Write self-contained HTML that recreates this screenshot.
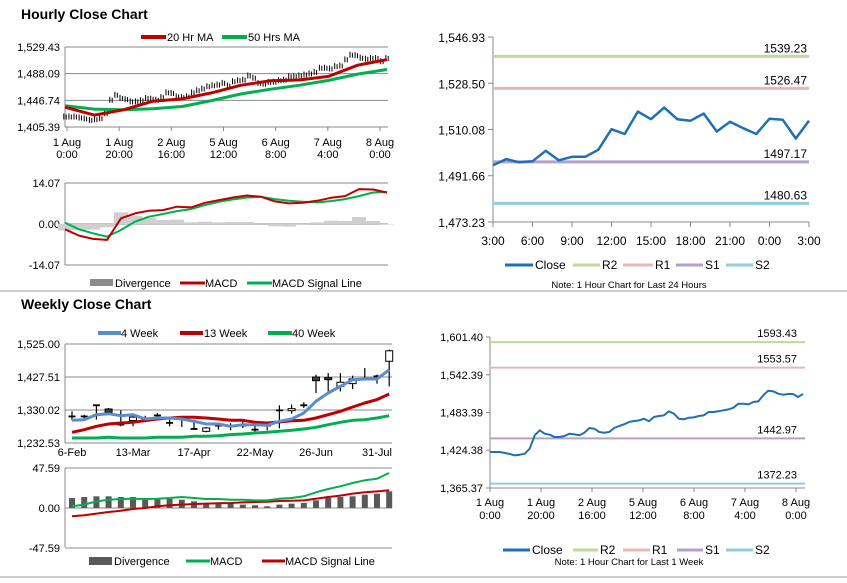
<!DOCTYPE html>
<html><head><meta charset="utf-8"><style>
html,body{margin:0;padding:0;background:#fff;}
svg{display:block;font-family:"Liberation Sans",Arial,sans-serif;}
text{fill:#000;}
</style></head><body>
<svg id="root" width="847" height="583" viewBox="0 0 847 583" xmlns="http://www.w3.org/2000/svg">
<rect x="0" y="0" width="847" height="583" fill="#fff"/>
<text x="21" y="19" font-size="14" font-weight="bold">Hourly Close Chart</text>
<text x="21" y="309" font-size="14" font-weight="bold">Weekly Close Chart</text>
<line x1="0" y1="291" x2="847" y2="291" stroke="#999" stroke-width="1"/>
<line x1="0" y1="577" x2="847" y2="577" stroke="#999" stroke-width="1"/>

<g font-size="11">
<line x1="141" y1="37" x2="166" y2="37" stroke="#c00000" stroke-width="4"/>
<text x="167" y="41">20 Hr MA</text>
<line x1="222" y1="37" x2="247" y2="37" stroke="#00b050" stroke-width="4"/>
<text x="248" y="41">50 Hrs MA</text>
</g>
<g font-size="11">
<rect x="90" y="279" width="23" height="7" fill="#8c8c8c"/>
<text x="115" y="287">Divergence</text>
<line x1="180" y1="283" x2="205" y2="283" stroke="#c00000" stroke-width="3"/>
<text x="205" y="287">MACD</text>
<line x1="247" y1="283" x2="272" y2="283" stroke="#00b050" stroke-width="3"/>
<text x="272" y="287">MACD Signal Line</text>
</g>
<g font-size="11">
<line x1="98" y1="333" x2="121" y2="333" stroke="#5b8ccc" stroke-width="4"/>
<text x="121" y="337">4 Week</text>
<line x1="180" y1="333" x2="203" y2="333" stroke="#c00000" stroke-width="4"/>
<text x="204" y="337">13 Week</text>
<line x1="268" y1="333" x2="292" y2="333" stroke="#00b050" stroke-width="4"/>
<text x="292" y="337">40 Week</text>
</g>
<g font-size="11">
<rect x="89" y="557" width="23" height="8" fill="#595959"/>
<text x="114" y="565">Divergence</text>
<line x1="186" y1="561" x2="210" y2="561" stroke="#00b050" stroke-width="3"/>
<text x="210" y="565">MACD</text>
<line x1="262" y1="561" x2="285" y2="561" stroke="#c00000" stroke-width="3"/>
<text x="285" y="565">MACD Signal Line</text>
</g>
<g font-size="12">
<line x1="505" y1="265" x2="533" y2="265" stroke="#1f6fb4" stroke-width="3"/>
<text x="535" y="269">Close</text>
<line x1="573" y1="265" x2="600" y2="265" stroke="#c3d69b" stroke-width="3"/>
<text x="602" y="269">R2</text>
<line x1="623" y1="265" x2="653" y2="265" stroke="#e6b9b8" stroke-width="3"/>
<text x="655" y="269">R1</text>
<line x1="676" y1="265" x2="703" y2="265" stroke="#b3a2c7" stroke-width="3"/>
<text x="705" y="269">S1</text>
<line x1="726" y1="265" x2="753" y2="265" stroke="#93cddd" stroke-width="3"/>
<text x="755" y="269">S2</text>
<text x="629" y="288" font-size="9.5" text-anchor="middle">Note: 1 Hour Chart for Last 24 Hours</text>
</g>
<g font-size="12">
<line x1="503" y1="550" x2="530" y2="550" stroke="#1f6fb4" stroke-width="3"/>
<text x="532" y="554">Close</text>
<line x1="573" y1="550" x2="598" y2="550" stroke="#c3d69b" stroke-width="3"/>
<text x="600" y="554">R2</text>
<line x1="623" y1="550" x2="650" y2="550" stroke="#e6b9b8" stroke-width="3"/>
<text x="652" y="554">R1</text>
<line x1="677" y1="550" x2="703" y2="550" stroke="#b3a2c7" stroke-width="3"/>
<text x="705" y="554">S1</text>
<line x1="726" y1="550" x2="753" y2="550" stroke="#93cddd" stroke-width="3"/>
<text x="755" y="554">S2</text>
<text x="629" y="565" font-size="9.5" text-anchor="middle">Note: 1 Hour Chart for Last 1 Week</text>
</g>
</svg>
<script>
// ---- data ----
const hourLabels1 = ["1 Aug","1 Aug","2 Aug","5 Aug","6 Aug","7 Aug","8 Aug"];
const hourLabels2 = ["0:00","20:00","16:00","12:00","8:00","4:00","0:00"];
const hourlyClose = [1421.6,1421.6,1421.6,1420.1,1418.5,1416.4,1417.4,1419.0,1426.8,1447.7,1455.5,1450.3,1448.7,1445.1,1445.1,1446.6,1450.3,1449.2,1447.7,1451.8,1459.1,1458.1,1452.9,1451.8,1452.9,1459.1,1462.3,1464.9,1468.5,1470.1,1471.1,1473.7,1469.6,1476.3,1477.9,1478.9,1485.2,1481.6,1473.7,1472.7,1475.3,1475.8,1477.9,1478.9,1484.2,1484.2,1485.2,1486.8,1488.3,1490.9,1497.2,1497.2,1496.1,1499.8,1500.8,1510.2,1517.5,1516.5,1512.8,1511.2,1512.3,1512.3,1507.6,1512.3];
const ma20 = [1436.1,1423.8,1432.0,1445.4,1449.0,1458.2,1470.0,1477.1,1478.2,1483.8,1501.2,1509.9];
const ma50 = [1438.2,1433.1,1432.0,1433.6,1437.2,1446.4,1456.6,1463.8,1470.0,1477.7,1487.4,1494.6];
const hMacd = [-1.82,-3.99,-5.13,-5.47,1.94,3.64,4.56,4.78,5.92,5.69,7.29,8.20,9.11,9.79,9.34,7.74,7.06,7.29,7.97,9.00,9.57,11.96,11.85,10.82];
const hSignal = [0.46,-1.82,-3.19,-4.33,-2.05,0.80,2.51,3.42,4.44,5.13,6.49,7.63,8.43,9.11,9.34,8.54,7.97,7.63,7.40,7.86,8.54,9.57,10.82,10.93];
const hDiv = [-2.28,-2.17,-1.94,-1.14,3.99,2.84,2.05,1.36,1.48,0.56,0.80,0.57,0.68,0.68,0.0,-0.80,-0.91,-0.34,0.57,1.14,1.03,2.39,1.03,-0.11];
const hTicks = [1405.39,1446.74,1488.09,1529.43];
const hMacdTicks = [-14.07,0,14.07];

const wLabels = ["6-Feb","13-Mar","17-Apr","22-May","26-Jun","31-Jul"];
const wOpen  = [1311,1311,1344,1333,1287,1299,1302,1314,1292,1306,1274,1267,1284,1282,1284,1272,1284,1329,1328,1344,1427.5,1425.5,1400,1408,1421.6,1429.5,1474];
const wClose = [1311,1311,1344,1323,1287,1309,1302,1314,1292,1306,1274,1277,1284,1282,1284,1272,1284,1329,1334,1344,1416.7,1419.6,1412,1422,1421.6,1429.5,1505];
const wHigh  = [1326,1316,1346,1336,1329,1313,1313,1321,1306,1308,1302,1280,1289,1291,1299,1289,1294,1344,1346,1353,1434.4,1439.3,1439,1431.5,1454,1434.4,1508.3];
const wLow   = [1300,1303,1302,1319,1282,1282,1294,1306,1282,1280,1272,1264,1272,1270,1277,1265,1270,1276,1319,1336,1380.2,1385.2,1385,1392,1419.6,1407.8,1399.9];
const w4 = [1299.5,1301.5,1316.2,1319.2,1313.3,1316.2,1303.4,1306.4,1306.4,1303.4,1296.5,1288.7,1288.7,1281.8,1286.7,1286.7,1284.7,1296.5,1303.4,1321.2,1355.6,1380.2,1399.9,1419.6,1421.6,1421.6,1449.2];
const w13 = [1264.0,1271.9,1281.8,1288.7,1291.6,1293.6,1298.5,1303.4,1306.4,1308.4,1308.4,1306.4,1303.4,1299.5,1299.5,1293.6,1291.6,1294.6,1298.5,1299.5,1306.4,1316.2,1326.1,1338.9,1350.7,1360.6,1377.3];
const w40 = [1247.3,1247.3,1247.3,1249.3,1247.3,1247.3,1247.3,1249.3,1249.3,1249.3,1252.2,1252.2,1254.2,1257.2,1259.1,1262.1,1264.0,1267.0,1270.0,1273.9,1278.8,1286.7,1293.6,1299.5,1301.5,1306.4,1313.3];
const wMacd = [2.0,4.0,7.9,9.9,10.7,11.1,10.7,11.1,11.9,13.1,11.9,10.7,10.7,9.9,9.9,9.1,9.1,11.1,11.9,13.9,18.7,22.6,25.8,29.8,32.9,34.9,41.7];
const wSignal = [-9.9,-8.7,-6.7,-4.8,-3.2,-1.2,0.0,2.0,3.2,4.0,4.8,5.2,5.6,6.0,6.7,7.1,7.5,8.3,8.7,9.1,11.1,13.1,14.7,17.1,18.7,19.8,21.0];
const wDiv = [11.9,13.1,13.9,13.9,13.1,13.1,11.9,11.1,10.7,9.9,7.9,6.0,6.0,6.0,4.0,3.2,2.0,4.0,5.2,6.0,9.1,11.9,13.1,13.9,15.9,17.1,19.8];
const wTicks = [1232.53,1330.02,1427.51,1525.00];
const wMacdTicks = [-47.59,0,47.59];

const dayLabels = ["3:00","6:00","9:00","12:00","15:00","18:00","21:00","0:00","3:00"];
const dayClose = [1495.8,1498.3,1497.0,1497.4,1501.6,1497.8,1499.2,1499.2,1502.0,1510.2,1508.3,1517.2,1514.2,1518.8,1514.2,1513.6,1516.4,1509.3,1513.2,1510.6,1508.3,1514.4,1514.0,1506.5,1513.6];
const dayTicks = [1473.23,1491.66,1510.08,1528.50,1546.93];
const dayPivotNames = ["R2","R1","S1","S2"];
const dayPivots = [1539.23,1526.47,1497.17,1480.63];
const weekTicks = [1365.37,1424.38,1483.39,1542.39,1601.40];
const weekPivots = [1593.43,1553.57,1442.97,1372.23];
const pivotColors = ["#c3d69b","#e6b9b8","#b3a2c7","#93cddd"];

// ---- helpers ----
const NS = "http://www.w3.org/2000/svg";
const root = document.getElementById("root");
function mk(tag, attrs, name, parent) {
  const el = document.createElementNS(NS, tag);
  for (const k in attrs) el.setAttribute(k, attrs[k]);
  
  
  (parent || root).appendChild(el);
  return el;
}
function txt(x, y, s, name, anchor, size) {
  const t = mk("text", {x: x, y: y, "font-size": size || 11, "text-anchor": anchor || "start"}, name);
  t.textContent = s;
  return t;
}
function fmt(v) { return v.toLocaleString("en-US", {minimumFractionDigits: 2, maximumFractionDigits: 2}); }
function linScale(d0, d1, r0, r1) { return v => r0 + (v - d0) / (d1 - d0) * (r1 - r0); }
function poly(arr, xs, ys, color, w, name) {
  const pts = arr.map((v, i) => xs(i).toFixed(1) + "," + ys(v).toFixed(1)).join(" ");
  mk("polyline", {points: pts, fill: "none", stroke: color, "stroke-width": w, "stroke-linejoin": "round"}, name);
}

// ---- Hourly price (top-left) ----
const hY = linScale(1405.39, 1529.43, 127, 47);
hTicks.forEach((t, i) => {
  mk("line", {x1: 65, x2: 388, y1: hY(t), y2: hY(t), stroke: "#888", "stroke-width": 1}, "hourly-gridline");
  txt(60, hY(t) + 4, fmt(t), "hourly-y-tick-label", "end");
});
mk("line", {x1: 65, x2: 65, y1: 47, y2: 127, stroke: "#888"}, "hourly-y-axis");
const hLabX = linScale(0, 6, 67, 380);
hourLabels1.forEach((l, i) => {
  mk("line", {x1: hLabX(i), x2: hLabX(i), y1: 127, y2: 131, stroke: "#888"}, "hourly-x-tick");
  txt(hLabX(i), 146, l, "hourly-x-tick-label", "middle");
  txt(hLabX(i), 158, hourLabels2[i], "hourly-x-tick-label", "middle");
});
const hX = linScale(0, hourlyClose.length - 1, 65, 387);
let hPath = "";
hourlyClose.forEach((v, i) => {
  const x = hX(i), y = hY(v);
  hPath += "M" + (x - 1.2).toFixed(1) + "," + (y - 3).toFixed(1) + "v6M" + (x + 1.2).toFixed(1) + "," + (y - 2).toFixed(1) + "v5";
});
mk("path", {d: hPath, stroke: "#000", "stroke-width": 1, fill: "none"}, "hourly-candles");
const maX = linScale(0, ma20.length - 1, 65, 387);
poly(ma50, maX, hY, "#00b050", 3, "hourly-50hr-ma-line");
poly(ma20, maX, hY, "#c00000", 3, "hourly-20hr-ma-line");

// ---- Hourly MACD ----
const hmY = linScale(0, 14.07, 224, 183);
hMacdTicks.forEach(t => {
  mk("line", {x1: 65, x2: 388, y1: hmY(t), y2: hmY(t), stroke: "#888"}, "hourly-macd-gridline");
  txt(60, hmY(t) + 4, fmt(t), "hourly-macd-y-tick-label", "end");
});
mk("line", {x1: 65, x2: 65, y1: 183, y2: 265, stroke: "#888"}, "hourly-macd-y-axis");
const hmX = linScale(0, hMacd.length - 1, 65, 387);
hDiv.forEach((v, i) => {
  const y0 = hmY(0), y1 = hmY(v);
  mk("rect", {x: hmX(i) - 7, y: Math.min(y0, y1), width: 14, height: Math.abs(y1 - y0), fill: "#cfcfcf"}, "hourly-divergence-bar");
});
poly(hSignal, hmX, hmY, "#00b050", 2, "hourly-macd-signal-line");
poly(hMacd, hmX, hmY, "#c00000", 2, "hourly-macd-line");

// ---- Weekly price (bottom-left) ----
const wY = linScale(1232.53, 1525.00, 443, 344);
wTicks.forEach(t => {
  mk("line", {x1: 65, x2: 392, y1: wY(t), y2: wY(t), stroke: "#888"}, "weekly-gridline");
  txt(60, wY(t) + 4, fmt(t), "weekly-y-tick-label", "end");
});
mk("line", {x1: 65, x2: 65, y1: 344, y2: 443, stroke: "#888"}, "weekly-y-axis");
const wX = linScale(0, 25, 72, 377);
wLabels.forEach((l, i) => {
  txt(wX(i * 5), 456, l, "weekly-x-tick-label", "middle");
});
wOpen.forEach((o, i) => {
  const c = wClose[i], x = wX(i);
  mk("line", {x1: x, x2: x, y1: wY(wHigh[i]), y2: wY(wLow[i]), stroke: "#000", "stroke-width": 1.2}, "weekly-candle-wick");
  const top = wY(Math.max(o, c)), bot = wY(Math.min(o, c));
  if (bot - top < 1.5) {
    mk("line", {x1: x - 3.5, x2: x + 3.5, y1: top, y2: top, stroke: "#000", "stroke-width": 1.8}, "weekly-candle-body");
  } else {
    mk("rect", {x: x - 3.5, y: top, width: 7, height: bot - top, fill: c >= o ? "#fff" : "#404040", stroke: "#000", "stroke-width": 1}, "weekly-candle-body");
  }
});
poly(w40, wX, wY, "#00b050", 3, "weekly-40week-line");
poly(w13, wX, wY, "#c00000", 3, "weekly-13week-line");
poly(w4, wX, wY, "#5b8ccc", 3, "weekly-4week-line");

// ---- Weekly MACD ----
const wmY = linScale(0, 47.59, 508, 468);
wMacdTicks.forEach(t => {
  mk("line", {x1: 65, x2: 392, y1: wmY(t), y2: wmY(t), stroke: "#888"}, "weekly-macd-gridline");
  txt(60, wmY(t) + 4, fmt(t), "weekly-macd-y-tick-label", "end");
});
mk("line", {x1: 65, x2: 65, y1: 468, y2: 547, stroke: "#888"}, "weekly-macd-y-axis");
wDiv.forEach((v, i) => {
  const y0 = wmY(0), y1 = wmY(v);
  mk("rect", {x: wX(i) - 3, y: Math.min(y0, y1), width: 6, height: Math.abs(y1 - y0), fill: "#595959"}, "weekly-divergence-bar");
});
poly(wSignal, wX, wmY, "#c00000", 2, "weekly-macd-signal-line");
poly(wMacd, wX, wmY, "#00b050", 2, "weekly-macd-line");

// ---- 24h pivot chart (top-right) ----
const dY = linScale(1473.23, 1546.93, 222, 37);
const dX = linScale(0, dayClose.length - 1, 493, 809);
mk("line", {x1: 493, x2: 493, y1: 37, y2: 222, stroke: "#888"}, "day-y-axis");
mk("line", {x1: 493, x2: 809, y1: 222, y2: 222, stroke: "#888"}, "day-x-axis");
dayTicks.forEach(t => {
  mk("line", {x1: 488, x2: 493, y1: dY(t), y2: dY(t), stroke: "#888"}, "day-y-tick");
  txt(485, dY(t) + 5, fmt(t), "day-y-tick-label", "end", 12);
});
dayLabels.forEach((l, i) => {
  const x = dX(i * 3);
  mk("line", {x1: x, x2: x, y1: 222, y2: 227, stroke: "#888"}, "day-x-tick");
  txt(x, 245, l, "day-x-tick-label", "middle", 12);
});
dayPivots.forEach((p, i) => {
  mk("line", {x1: 493, x2: 809, y1: dY(p), y2: dY(p), stroke: pivotColors[i], "stroke-width": 3}, "day-pivot-" + dayPivotNames[i].toLowerCase());
  txt(807, dY(p) - 4, p.toFixed(2), "day-pivot-label", "end", 12);
});
poly(dayClose, dX, dY, "#1f6fb4", 2.5, "day-close-line");

// ---- week pivot chart (bottom-right) ----
const kY = linScale(1365.37, 1601.40, 488, 337);
const kX = linScale(0, hourlyClose.length - 1, 490, 803);
const kLabX = linScale(0, 6, 490, 796);
mk("line", {x1: 490, x2: 490, y1: 337, y2: 488, stroke: "#888"}, "week-y-axis");
mk("line", {x1: 490, x2: 805, y1: 488, y2: 488, stroke: "#888"}, "week-x-axis");
weekTicks.forEach(t => {
  mk("line", {x1: 486, x2: 490, y1: kY(t), y2: kY(t), stroke: "#888"}, "week-y-tick");
  txt(483, kY(t) + 4, fmt(t), "week-y-tick-label", "end", 11);
});
hourLabels1.forEach((l, i) => {
  const x = kLabX(i);
  mk("line", {x1: x, x2: x, y1: 488, y2: 492, stroke: "#888"}, "week-x-tick");
  txt(x, 506, l, "week-x-tick-label", "middle", 11);
  txt(x, 519, hourLabels2[i], "week-x-tick-label", "middle", 11);
});
weekPivots.forEach((p, i) => {
  mk("line", {x1: 490, x2: 805, y1: kY(p), y2: kY(p), stroke: pivotColors[i], "stroke-width": 2}, "week-pivot-" + dayPivotNames[i].toLowerCase());
  txt(797, kY(p) - 5, p.toFixed(2), "week-pivot-label", "end", 11);
});
poly(hourlyClose, kX, kY, "#1f6fb4", 2, "week-close-line");
</script>
</body></html>
